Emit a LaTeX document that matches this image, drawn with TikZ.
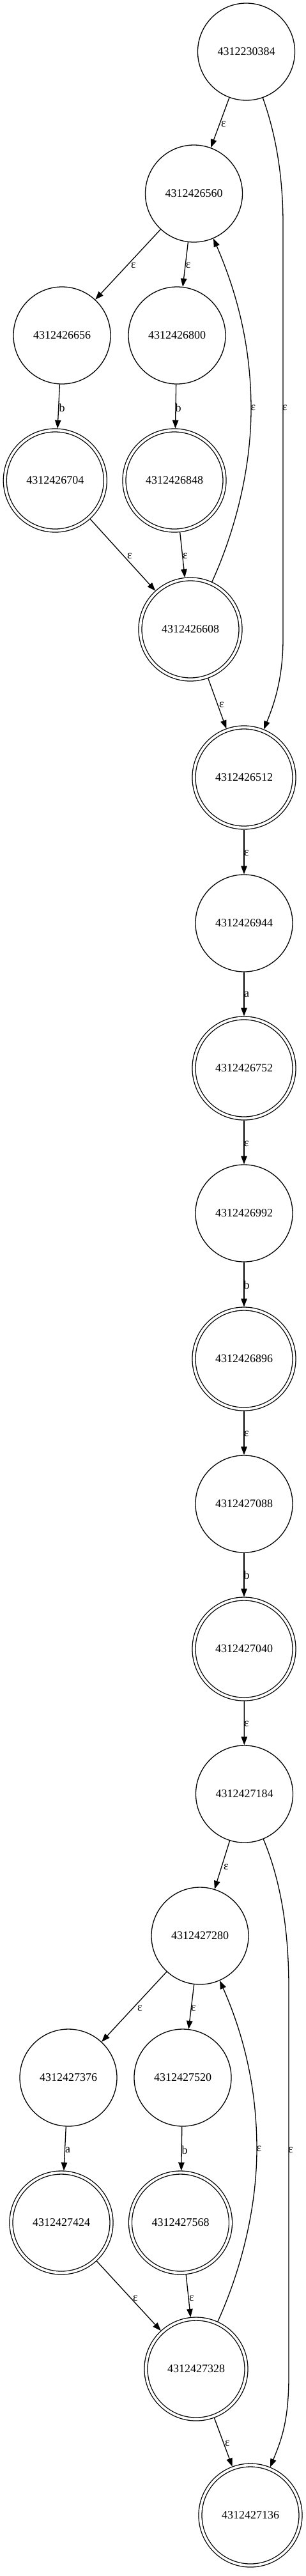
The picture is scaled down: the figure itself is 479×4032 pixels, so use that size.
\documentclass[tikz,border=0pt]{standalone}
\usepackage{fontspec}
\setmainfont{Liberation Serif}
\usetikzlibrary{arrows.meta}

\tikzset{
    nstate/.style = {circle, draw, line width = 1.3pt, minimum size = 152pt, inner sep = 0pt, outer sep = 0.65pt, font = \fontsize{18}{18}\selectfont},
    astate/.style = {nstate, minimum size = 157pt, double, double distance = 3.7pt, outer sep = 3pt},
    lab/.style = {inner sep = 0pt, font = \fontsize{18}{18}\selectfont},
    edge/.style = {->, line width = 1.3pt}
}

\begin{document}
\begin{tikzpicture}[x = 1pt, y = -1pt, >= {Triangle[length = 13pt, width = 9.5pt]}]
            % \draw[style = help lines] (0,0) grid (479,4032);
            \useasboundingbox (0,0) rectangle (479,4032);

            % first part
            \node[nstate] (q0) at (385.5,81) {4312230384};
            \node[nstate] (q1) at (303.5,303) {4312426560};
            \node[nstate] (q2) at (97,525) {4312426656};
            \node[nstate] (q3) at (277,525) {4312426800};
            \node[astate] (q4) at (86.3,752) {4312426704};
            \node[astate] (q5) at (273,752) {4312426848};
            \node[astate] (q6) at (298,985) {4312426608};
            \node[astate] (q7) at (382,1217) {4312426512};

            % chain
            \node[nstate] (q8) at (382,1445) {4312426944};
            \node[astate] (q9) at (382,1672) {4312426752};
            \node[nstate] (q10) at (382,1899) {4312426992};
            \node[astate] (q11) at (382,2127) {4312426896};
            \node[nstate] (q12) at (382,2354) {4312427088};
            \node[astate] (q13) at (382,2581) {4312427040};

            % second part
            \node[nstate] (q14) at (382.5,2808) {4312427184};
            \node[nstate] (q15) at (313,3030) {4312427280};
            \node[nstate] (q16) at (107,3252) {4312427376};
            \node[nstate] (q17) at (286,3252) {4312427520};
            \node[astate] (q18) at (96,3479) {4312427424};
            \node[astate] (q19) at (282.5,3479) {4312427568};
            \node[astate] (q20) at (307,3708) {4312427328};
            \node[astate] (q21) at (392,3937) {4312427136};

            \draw[edge] (q0) -- (q1) node[lab] (l0) at (350,194) {ε};
            \draw[edge] (q0) .. controls (430,205) and (443,270) .. (443,350) -- (443,1000) .. controls (443,1060) and (430,1100) .. (q7) node[lab] (l1) at (446,638) {ε};
            \draw[edge] (q1) -- (q2) node[lab] (l2) at (209,415) {ε};
            \draw[edge] (q1) -- (q3) node[lab] (l3) at (294.7,415) {ε};
            \draw[edge] (q2) -- (q4) node[lab] (l4) at (97,638) {b};
            \draw[edge] (q3) -- (q5) node[lab] (l5) at (279,638) {b};
            \draw[edge] (q4) -- (q6) node[lab] (l6) at (203,870) {ε};
            \draw[edge] (q5) -- (q6) node[lab] (l7) at (290,870) {ε};
            \draw[edge] (q6) .. controls (365,838) and (393,740) .. (393,640) .. controls (393,540) and (370,456) .. (q1) node[lab] (l8) at (396.5,638) {ε};
            \draw[edge] (q6) -- (q7) node[lab] (l9) at (347,1103) {ε};

            \draw[edge] (q7) -- (q8) node[lab] (l10) at (386,1335) {ε};
            \draw[edge] (q8) -- (q9) node[lab] (l11) at (386,1556) {a};
            \draw[edge] (q9) -- (q10) node[lab] (l12) at (386,1790) {ε};
            \draw[edge] (q10) -- (q11) node[lab] (l13) at (386,2011) {b};
            \draw[edge] (q11) -- (q12) node[lab] (l14) at (386,2244) {ε};
            \draw[edge] (q12) -- (q13) node[lab] (l15) at (386,2465) {b};
            \draw[edge] (q13) -- (q14) node[lab] (l16) at (386,2698) {ε};

            \draw[edge] (q14) -- (q15) node[lab] (l17) at (354,2922) {ε};
            \draw[edge] (q14) .. controls (436,2935) and (452,3010) .. (452,3110) -- (452,3720) .. controls (452,3790) and (440,3820) .. (q21) node[lab] (l18) at (455,3365) {ε};
            \draw[edge] (q15) -- (q16) node[lab] (l19) at (219,3143) {ε};
            \draw[edge] (q15) -- (q17) node[lab] (l20) at (303,3143) {ε};
            \draw[edge] (q16) -- (q18) node[lab] (l21) at (106,3365) {a};
            \draw[edge] (q17) -- (q19) node[lab] (l22) at (289,3365) {b};
            \draw[edge] (q18) -- (q20) node[lab] (l23) at (212,3597) {ε};
            \draw[edge] (q19) -- (q20) node[lab] (l24) at (300,3597) {ε};
            \draw[edge] (q20) .. controls (374,3561) and (402,3463) .. (402,3363) .. controls (402,3263) and (379,3179) .. (q15) node[lab] (l25) at (405.5,3363) {ε};
            \draw[edge] (q20) -- (q21) node[lab] (l26) at (356,3824) {ε};
\end{tikzpicture}
\end{document}
